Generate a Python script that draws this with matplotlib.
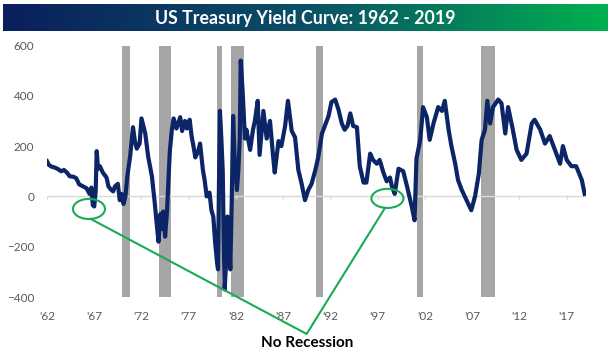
import matplotlib
matplotlib.use("Agg")
import matplotlib.pyplot as plt
import numpy as np
from matplotlib.colors import LinearSegmentedColormap
from matplotlib.patches import Ellipse

# ---- data (spread, bps) ----
years = [
    1962.0, 1962.2, 1962.5, 1962.8, 1963.1, 1963.5, 1963.8, 1964.1, 1964.4, 1964.8,
    1965.1, 1965.4, 1965.8, 1966.2, 1966.5, 1966.7, 1966.85, 1967.0, 1967.15, 1967.26,
    1967.4, 1967.6, 1967.9, 1968.3, 1968.5, 1968.7, 1969.0, 1969.2, 1969.5, 1969.7,
    1969.9, 1970.1, 1970.3, 1970.5, 1970.8, 1971.1, 1971.3, 1971.5, 1971.8, 1972.0,
    1972.2, 1972.4, 1972.7, 1972.9, 1973.1, 1973.4, 1973.6, 1973.8, 1974.0, 1974.15,
    1974.3, 1974.5, 1974.7, 1974.85, 1975.0, 1975.2, 1975.4, 1975.7, 1976.1, 1976.3,
    1976.6, 1976.8, 1977.1, 1977.3, 1977.5, 1977.7, 1978.0, 1978.2, 1978.5, 1978.7,
    1978.9, 1979.2, 1979.4, 1979.6, 1979.8, 1980.0, 1980.1, 1980.2, 1980.3, 1980.45,
    1980.6, 1980.7, 1980.8, 1980.96, 1981.1, 1981.25, 1981.4, 1981.55, 1981.7, 1981.85,
    1982.1, 1982.25, 1982.4, 1982.5, 1982.7, 1982.95, 1983.1, 1983.5, 1983.8, 1984.0,
    1984.3, 1984.5, 1984.9, 1985.25, 1985.6, 1985.95, 1986.1, 1986.5, 1986.8, 1987.2,
    1987.5, 1987.9, 1988.25, 1988.6, 1988.95, 1989.3, 1989.65, 1990.0, 1990.4, 1990.7,
    1991.1, 1991.4, 1991.8, 1992.1, 1992.5, 1992.85, 1993.2, 1993.5, 1993.8, 1994.1,
    1994.4, 1994.8, 1995.1, 1995.5, 1995.8, 1996.2, 1996.5, 1996.9, 1997.2, 1997.6,
    1997.95, 1998.3, 1998.5, 1998.8, 1999.2, 1999.7, 2000.1, 2000.6, 2000.9, 2001.1,
    2001.5, 2001.8, 2002.2, 2002.5, 2002.9, 2003.4, 2003.8, 2004.1, 2004.5, 2004.8,
    2005.2, 2005.5, 2005.9, 2006.4, 2006.9, 2007.3, 2007.7, 2008.0, 2008.35, 2008.6,
    2008.9, 2009.2, 2009.75, 2010.1, 2010.5, 2010.8, 2011.3, 2011.7, 2012.2, 2012.75,
    2013.3, 2013.6, 2014.2, 2014.7, 2015.2, 2015.75, 2016.3, 2016.6, 2017.0, 2017.5,
    2018.0, 2018.6, 2018.9,
]
spread = [
    140, 125, 118, 115, 110, 100, 105, 95, 80, 78,
    72, 48, 40, 32, 10, 35, -35, -40, 20, 180,
    110, 120, 95, 75, 40, 30, 20, 40, 50, -15,
    10, -30, 0, 80, 160, 275, 220, 190, 210, 310,
    280, 250, 160, 120, 80, -25, -105, -180, -70, -130,
    -60, -160, -60, 65, 180, 260, 310, 270, 315, 260,
    300, 270, 305, 240, 200, 155, 180, 210, 105, 60,
    0, 15, -55, -80, -185, -265, -290, 50, 340, 230,
    100, -160, -370, -260, -80, -150, -290, -20, 320, 150,
    25, 105, 230, 540, 420, 230, 265, 185, 265, 300,
    380, 165, 340, 230, 300, 150, 95, 220, 200, 280,
    380, 260, 235, 105, 50, -15, 25, 50, 105, 155,
    250, 280, 320, 375, 385, 345, 290, 265, 280, 330,
    280, 275, 120, 55, 55, 170, 145, 130, 145, 95,
    60, 75, 40, 10, 110, 100, 40, -40, -95, 150,
    225, 355, 315, 225, 290, 355, 340, 380, 265, 200,
    130, 65, 25, -15, -55, 0, 90, 225, 265, 380,
    290, 355, 385, 370, 250, 355, 265, 185, 145, 170,
    290, 305, 265, 210, 240, 185, 130, 200, 145, 120,
    120, 65, 10,
]

# NBER recessions (start, end) in fractional years
rec_start = [1969.92, 1973.83, 1980.0, 1981.5, 1990.5, 2001.17, 2007.92]
rec_end   = [1970.83, 1975.17, 1980.5, 1982.83, 1991.17, 2001.83, 2009.42]

tick_years = [1962, 1967, 1972, 1977, 1982, 1987, 1992, 1997, 2002, 2007, 2012, 2017]
tick_labels = ["'62", "'67", "'72", "'77", "'82", "'87", "'92", "'97", "'02", "'07", "'12", "'17"]
y_ticks = [-400, -200, 0, 200, 400, 600]

title = "US Treasury Yield Curve: 1962 - 2019"
note = "No Recession"

# ---- figure ----
W, H = 611, 352
fig = plt.figure(figsize=(W / 100, H / 100), dpi=100)
fig.patch.set_facecolor("white")

# title bar with gradient
tax = fig.add_axes([3 / W, 1 - 31 / H, 605 / W, 27 / H])
cmap = LinearSegmentedColormap.from_list("tb", ["#0a1f5c", "#0a4f66", "#00b050"])
tax.imshow(np.linspace(0, 1, 256)[None, :], aspect="auto", cmap=cmap,
           extent=[0, 1, 0, 1])
tax.set_axis_off()
tax.text(0.5, 0.47, title, transform=tax.transAxes, ha="center", va="center",
         color="white", fontsize=12.8, fontweight="bold", family=["Lato", "DejaVu Sans"])

# main axes
x0, x1 = 1962.0, 2019.0
ax = fig.add_axes([47 / W, 1 - 297 / H, 538.6 / W, 251.5 / H])
ax.set_xlim(x0, x1)
ax.set_ylim(-400, 600)

for s, e in zip(rec_start, rec_end):
    ax.axvspan(s, e, color="#a6a6a6", lw=0, zorder=1)

ax.axhline(0, color="#d9d9d9", lw=1.0, zorder=2)
ax.vlines(tick_years, -9, 0, color="#d9d9d9", lw=1.0, zorder=2)

ax.plot(years, spread, color="#0b2566", lw=3.0, solid_joinstyle="round", zorder=3)

for sp in ax.spines.values():
    sp.set_visible(False)
ax.set_xticks(tick_years)
ax.set_xticklabels(tick_labels)
ax.set_yticks(y_ticks)
ax.tick_params(axis="both", length=0, colors="#595959", labelsize=8.5)
ax.tick_params(axis="y", pad=9)
ax.tick_params(axis="x", pad=10)
for lab in ax.get_xticklabels() + ax.get_yticklabels():
    lab.set_family(["Lato", "DejaVu Sans"])

# green annotation
green = "#1aaa55"
ax.add_patch(Ellipse((1966.44, -50), 3.39, 80, fill=False, ec=green, lw=1.5,
                     zorder=4, clip_on=False))
ax.add_patch(Ellipse((1998.03, -8), 3.39, 76, fill=False, ec=green, lw=1.5,
                     zorder=4, clip_on=False))
ax.plot([1966.62, 1989.48, 1997.77], [-89.5, -547, -45.7], color=green, lw=1.5,
        zorder=4, clip_on=False)

fig.text(307 / W, 1 - 343 / H, note, ha="center", va="center", fontsize=11,
         fontweight="bold", color="black", family=["Lato", "DejaVu Sans"])

fig.savefig("out.png", dpi=100)
